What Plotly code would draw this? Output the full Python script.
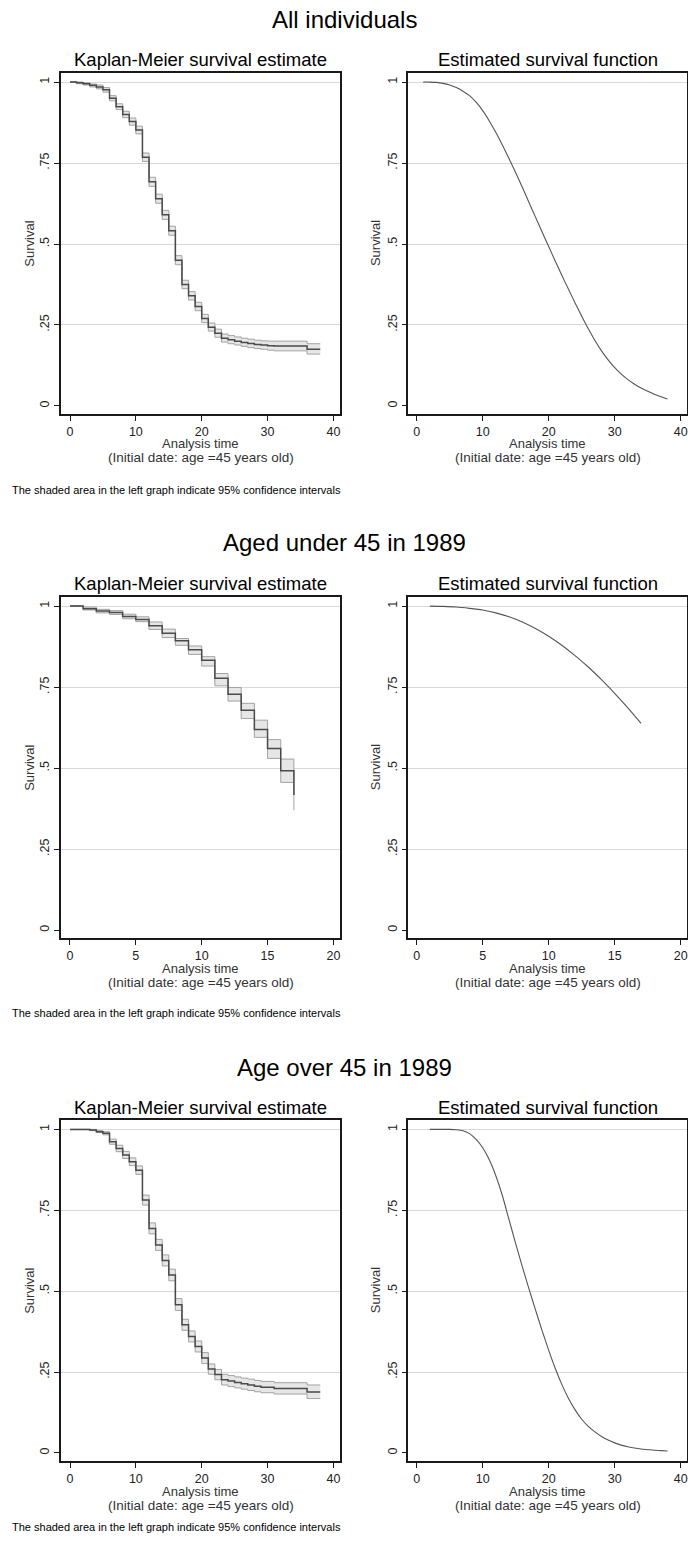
import plotly.graph_objects as go

W, H = 688, 1546

# ---------------- Data ----------------
section_titles = ["All individuals", "Aged under 45 in 1989", "Age over 45 in 1989"]
y_tickvals = [0, 0.25, 0.5, 0.75, 1]
y_ticktext = ["0", ".25", ".5", ".75", "1"]
x_ticks_long = [0, 10, 20, 30, 40]
x_ticks_short = [0, 5, 10, 15, 20]

# All individuals: Kaplan-Meier step estimate with 95% CI
all_km_t = [0, 1, 2, 3, 4, 5, 6, 7, 8, 9, 10, 11, 12, 13, 14, 15, 16, 17, 18, 19,
            20, 21, 22, 23, 24, 25, 26, 27, 28, 29, 30, 31, 36, 38]
all_km_s = [1.0, .998, .995, .99, .985, .976, .95, .924, .9, .878, .852, .768, .692, .64,
            .59, .541, .45, .375, .34, .307, .27, .243, .224, .209, .204, .2, .196, .193,
            .19, .188, .186, .185, .175, .175]
all_km_lo = [1.0, .995, .991, .985, .979, .969, .942, .915, .89, .867, .84, .755, .678, .626,
             .576, .527, .436, .362, .327, .294, .257, .231, .212, .197, .192, .188, .184, .18,
             .177, .175, .172, .17, .16, .16]
all_km_hi = [1.0, 1.0, .998, .994, .991, .983, .958, .933, .91, .889, .864, .781, .706, .654,
             .604, .555, .464, .388, .353, .32, .283, .256, .237, .222, .217, .213, .209, .206,
             .203, .201, .2, .2, .192, .192]
# All individuals: fitted parametric survival function
all_fit_t = list(range(1, 39))
all_fit_s = [1.0, 1.0, .999, .996, .991, .983, .972, .958, .938, .912, .88, .844, .805, .763,
             .72, .675, .629, .583, .537, .492, .447, .403, .36, .318, .277, .238, .202, .17,
             .142, .118, .098, .081, .067, .055, .045, .036, .028, .021]

# Aged under 45 in 1989
u45_km_t = [0, 1, 2, 3, 4, 5, 6, 7, 8, 9, 10, 11, 12, 13, 14, 15, 16, 17]
u45_km_s = [1.0, .992, .985, .98, .968, .959, .939, .916, .893, .865, .833, .777, .728, .679,
            .619, .561, .492, .417]
u45_km_lo = [1.0, .988, .979, .974, .961, .952, .928, .903, .879, .851, .815, .754, .707, .653,
             .595, .53, .456, .37]
u45_km_hi = [1.0, .997, .99, .986, .975, .967, .951, .929, .9, .877, .844, .792, .749, .7,
             .648, .588, .528, .46]
u45_fit_t = list(range(1, 18))
u45_fit_s = [1.0, .999, .997, .993, .988, .979, .967, .951, .931, .907, .879, .847, .812, .773,
             .731, .686, .638]

# Age over 45 in 1989
o45_km_t = [0, 3, 4, 5, 6, 7, 8, 9, 10, 11, 12, 13, 14, 15, 16, 17, 18, 19, 20, 21, 22, 23,
            24, 25, 26, 27, 28, 29, 31, 36, 38]
o45_km_s = [1.0, .998, .993, .988, .962, .941, .921, .9, .874, .782, .694, .643, .595, .55,
            .458, .396, .36, .329, .293, .259, .242, .226, .222, .218, .214, .21, .206, .203,
            .199, .188, .188]
o45_km_lo = [1.0, .996, .99, .983, .954, .931, .91, .888, .861, .766, .677, .626, .578, .532,
             .44, .379, .343, .312, .276, .243, .226, .21, .205, .201, .197, .193, .189, .186,
             .182, .168, .168]
o45_km_hi = [1.0, 1.0, .996, .993, .97, .951, .932, .912, .887, .797, .711, .66, .612, .568,
             .477, .413, .377, .346, .31, .275, .258, .243, .239, .235, .231, .228, .224, .221,
             .217, .21, .21]
o45_fit_t = list(range(2, 39))
o45_fit_s = [1.0, 1.0, 1.0, 1.0, .999, .996, .987, .969, .943, .906, .856, .794, .72, .647,
             .576, .508, .442, .378, .317, .261, .211, .168, .133, .104, .082, .065, .051,
             .04, .031, .024, .019, .015, .012, .01, .008, .007, .006]

km_sets = [(all_km_t, all_km_s, all_km_lo, all_km_hi),
           (u45_km_t, u45_km_s, u45_km_lo, u45_km_hi),
           (o45_km_t, o45_km_s, o45_km_lo, o45_km_hi)]
fit_sets = [(all_fit_t, all_fit_s), (u45_fit_t, u45_fit_s), (o45_fit_t, o45_fit_s)]
x_tick_sets = [x_ticks_long, x_ticks_short, x_ticks_long]
x_ranges_left = [[-1.37, 41.0], [-0.68, 20.5], [-1.37, 41.0]]
x_ranges_right = [[-1.27, 40.95], [-0.63, 20.48], [-1.27, 40.95]]

# ---------------- Layout geometry (pixels) ----------------
left_px = (61, 340)
right_px = (408.3, 687)
plot_top_px = [72.7, 596.7, 1120]
plot_bot_px = [414, 938.3, 1461]
title_y_px = [20, 542, 1067]
sub_y_px = [59.5, 583.5, 1107]
xlab1_y_px = [443.5, 968.5, 1491]
xlab2_y_px = [457.5, 982.5, 1505]
foot_y_px = [490, 1013, 1527]

FONT = "Liberation Sans, Arial, sans-serif"
AX_COLOR = "#1a1a1a"
LABEL_COLOR = "#333333"


def fx(px):
    return px / W


def fy(px):
    return 1 - px / H


fig = go.Figure()
layout = dict(
    width=W, height=H,
    margin=dict(l=0, r=0, t=0, b=0),
    paper_bgcolor="white", plot_bgcolor="white",
    showlegend=False,
    font=dict(family=FONT, color="#000000"),
)
annotations = []


def axis_pair(idx, xdom, ydom, xrange, xticks):
    xname = "xaxis" if idx == 1 else f"xaxis{idx}"
    yname = "yaxis" if idx == 1 else f"yaxis{idx}"
    yref = "y" if idx == 1 else f"y{idx}"
    xref = "x" if idx == 1 else f"x{idx}"
    layout[xname] = dict(
        domain=xdom, range=xrange, anchor=yref,
        tickmode="array", tickvals=xticks, ticktext=[str(v) for v in xticks],
        ticks="outside", ticklen=5, tickwidth=1.2, tickcolor=AX_COLOR,
        showline=True, linecolor=AX_COLOR, linewidth=1.6, mirror=True,
        showgrid=False, zeroline=False, ticklabelstandoff=0,
        tickfont=dict(size=12.5, color="#222222", family=FONT),
        fixedrange=True,
    )
    layout[yname] = dict(
        domain=ydom, range=[-0.025, 1.029], anchor=xref,
        tickmode="array", tickvals=y_tickvals, ticktext=y_ticktext, tickangle=-90,
        ticks="outside", ticklen=5, tickwidth=1.2, tickcolor=AX_COLOR,
        showline=True, linecolor=AX_COLOR, linewidth=1.6, mirror=True,
        showgrid=False, zeroline=False,
        minor=dict(tickmode="array", tickvals=[0.25, 0.5, 0.75, 1.0], showgrid=True,
                   gridcolor="#d9d9d9", gridwidth=1, ticks=""),
        tickfont=dict(size=12.5, color="#222222", family=FONT),
        fixedrange=True,
    )
    return xref, yref


for s in range(3):
    ydom = [fy(plot_bot_px[s]), fy(plot_top_px[s])]
    idx_l = 2 * s + 1
    idx_r = 2 * s + 2
    xl, yl = axis_pair(idx_l, [fx(left_px[0]), fx(left_px[1])], ydom,
                       x_ranges_left[s], x_tick_sets[s])
    xr, yr = axis_pair(idx_r, [fx(right_px[0]), fx(right_px[1])], ydom,
                       x_ranges_right[s], x_tick_sets[s])

    t, sv, lo, hi = km_sets[s]
    # confidence band: lower edge, then upper edge filled down to it
    fig.add_trace(go.Scatter(x=t, y=lo, mode="lines", line_shape="hv",
                             line=dict(color="#a3a3a3", width=1),
                             xaxis=xl, yaxis=yl, hoverinfo="skip"))
    fig.add_trace(go.Scatter(x=t, y=hi, mode="lines", line_shape="hv",
                             line=dict(color="#a3a3a3", width=1),
                             fill="tonexty", fillcolor="#e6e6e6",
                             xaxis=xl, yaxis=yl, hoverinfo="skip"))
    fig.add_trace(go.Scatter(x=t, y=sv, mode="lines", line_shape="hv",
                             line=dict(color="#4a4a4a", width=1.5),
                             xaxis=xl, yaxis=yl))

    ft, fs = fit_sets[s]
    fig.add_trace(go.Scatter(x=ft, y=fs, mode="lines", line_shape="spline",
                             line=dict(color="#555555", width=1.1, smoothing=0.6),
                             xaxis=xr, yaxis=yr))

    # section heading
    annotations.append(dict(text=section_titles[s], x=0.5, y=fy(title_y_px[s]),
                            xref="paper", yref="paper", showarrow=False,
                            xanchor="center", yanchor="middle",
                            font=dict(size=24, color="#000000", family=FONT)))
    centers = [(left_px[0] + left_px[1]) / 2, (right_px[0] + right_px[1]) / 2]
    subs = ["Kaplan-Meier survival estimate", "Estimated survival function"]
    surv_x = [29.3, 375.7]
    for c in range(2):
        annotations.append(dict(text=subs[c], x=fx(centers[c]), y=fy(sub_y_px[s]),
                                xref="paper", yref="paper", showarrow=False,
                                xanchor="center", yanchor="middle",
                                font=dict(size=18.5, color="#000000", family=FONT)))
        annotations.append(dict(text="Analysis time", x=fx(centers[c]), y=fy(xlab1_y_px[s]),
                                xref="paper", yref="paper", showarrow=False,
                                xanchor="center", yanchor="middle",
                                font=dict(size=13, color=LABEL_COLOR, family=FONT)))
        annotations.append(dict(text="(Initial date: age =45 years old)",
                                x=fx(centers[c]), y=fy(xlab2_y_px[s]),
                                xref="paper", yref="paper", showarrow=False,
                                xanchor="center", yanchor="middle",
                                font=dict(size=13.5, color=LABEL_COLOR, family=FONT)))
        annotations.append(dict(text="Survival", x=fx(surv_x[c]),
                                y=fy((plot_top_px[s] + plot_bot_px[s]) / 2),
                                xref="paper", yref="paper", showarrow=False,
                                xanchor="center", yanchor="middle", textangle=-90,
                                font=dict(size=13, color=LABEL_COLOR, family=FONT)))
    annotations.append(dict(text="The shaded area in the left graph indicate 95% confidence intervals",
                            x=fx(10), y=fy(foot_y_px[s]), xref="paper", yref="paper",
                            showarrow=False, xanchor="left", yanchor="middle",
                            font=dict(size=11, color="#000000", family=FONT)))

layout["annotations"] = annotations
fig.update_layout(**layout)
fig.write_html("out.html")
